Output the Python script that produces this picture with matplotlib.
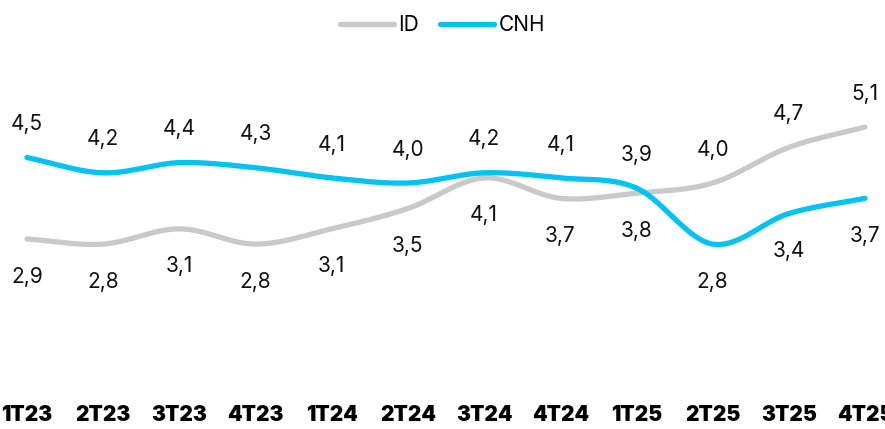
import numpy as np
import matplotlib.pyplot as plt
from matplotlib.lines import Line2D

# trimestres
quarters = ['1T23', '2T23', '3T23', '4T23', '1T24', '2T24',
            '3T24', '4T24', '1T25', '2T25', '3T25', '4T25']
id_vals = [2.9, 2.8, 3.1, 2.8, 3.1, 3.5, 4.1, 3.7, 3.8, 4.0, 4.7, 5.1]
cnh_vals = [4.5, 4.2, 4.4, 4.3, 4.1, 4.0, 4.2, 4.1, 3.9, 2.8, 3.4, 3.7]

GREY = '#c9c9c9'
CYAN = '#00c2f3'

plt.rcParams['font.family'] = ['Inter', 'DejaVu Sans']


def smooth(x, y, n=30):
    # courbe lissée type Catmull-Rom passant par chaque point
    x = np.asarray(x, float)
    y = np.asarray(y, float)
    px = np.concatenate([[2 * x[0] - x[1]], x, [2 * x[-1] - x[-2]]])
    py = np.concatenate([[2 * y[0] - y[1]], y, [2 * y[-1] - y[-2]]])
    xs, ys = [], []
    t = np.linspace(0, 1, n)
    for i in range(1, len(px) - 2):
        for p, out in ((px, xs), (py, ys)):
            p0, p1, p2, p3 = p[i - 1], p[i], p[i + 1], p[i + 2]
            out.append(0.5 * ((2 * p1) + (-p0 + p2) * t
                              + (2 * p0 - 5 * p1 + 4 * p2 - p3) * t ** 2
                              + (-p0 + 3 * p1 - 3 * p2 + p3) * t ** 3))
    return np.concatenate(xs), np.concatenate(ys)


fig = plt.figure(figsize=(8.85, 4.29), dpi=100)
ax = fig.add_axes([0, 31 / 429, 1, 338 / 429])

x = np.arange(len(quarters))
for vals, col in ((id_vals, GREY), (cnh_vals, CYAN)):
    sx, sy = smooth(x, vals)
    ax.plot(sx, sy, color=col, lw=3.8, solid_capstyle='round')

# étiquettes : la série la plus haute au-dessus, l'autre en dessous
for i in x:
    for vals, other in ((id_vals, cnh_vals), (cnh_vals, id_vals)):
        above = vals[i] > other[i]
        ax.annotate(f'{vals[i]:.1f}'.replace('.', ','), (i, vals[i]),
                    xytext=(0, 24 if above else -27), textcoords='offset points',
                    ha='center', va='center', fontsize=15, color='#111111')

ax.set_xlim(-27 / 76.2, 11 + 20 / 76.2)
ax.set_ylim(2.9 - 159 / 50.9, 2.9 + 179 / 50.9)
ax.set_xticks(x)
ax.set_xticklabels(quarters, fontsize=15, fontweight='black')
ax.tick_params(axis='x', length=0, pad=5)
ax.set_yticks([])
for s in ax.spines.values():
    s.set_visible(False)

handles = [Line2D([], [], color=GREY, lw=3.8, solid_capstyle='round'),
           Line2D([], [], color=CYAN, lw=3.8, solid_capstyle='round')]
fig.legend(handles, ['ID', 'CNH'], loc='center', bbox_to_anchor=(0.5, 1 - 25 / 429),
           ncol=2, frameon=False, fontsize=15, handlelength=2.6,
           handletextpad=0.2, columnspacing=1.0)

fig.savefig('out.png', dpi=100)
